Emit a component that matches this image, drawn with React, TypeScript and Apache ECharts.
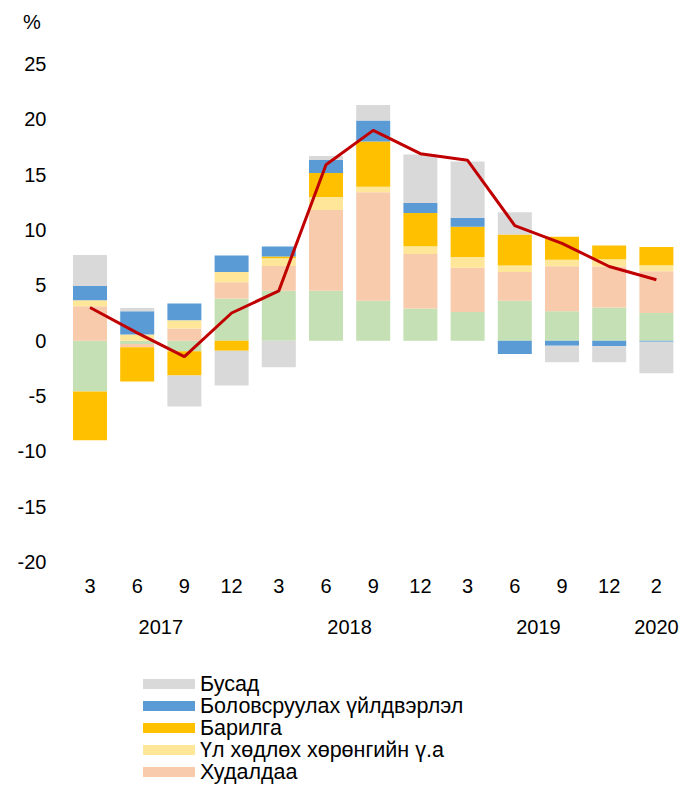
import React, { useEffect, useRef } from "react";
import * as echarts from "echarts";

const months = ["3", "6", "9", "12", "3", "6", "9", "12", "3", "6", "9", "12", "2"];
const yearSlots = ["", "", "", "", "2017", "", "", "", "", "", "", "", "2018", "", "", "", "", "", "", "", "2019", "", "", "", "", "2020", ""];

const agriculture = [-4.6, -0.3, -0.95, 3.8, 4.5, 4.5, 3.6, 2.9, 2.6, 3.6, 2.65, 3.0, 2.5];
const trade = [3.1, -0.3, 1.1, 1.47, 2.25, 7.3, 9.8, 4.93, 4.0, 2.6, 4.07, 3.7, 3.77];
const realEstate = [0.55, 0.55, 0.75, 0.93, 0.7, 1.18, 0.5, 0.7, 0.95, 0.6, 0.6, 0.66, 0.54];
const construction = [-4.4, -3.1, -2.2, -0.9, 0.15, 2.17, 4.1, 3.0, 2.75, 2.8, 2.06, 1.24, 1.66];
const manufacturing = [1.3, 2.1, 1.5, 1.5, 0.9, 1.17, 1.9, 0.9, 0.8, -1.2, -0.45, -0.5, -0.1];
const other = [2.8, 0.3, -2.8, -3.15, -2.4, 0.36, 1.4, 4.4, 5.1, 2.0, -1.5, -1.45, -2.85];
const gdp = [3.0, 0.7, -1.45, 2.5, 4.5, 15.9, 19.0, 16.9, 16.3, 10.4, 8.8, 6.7, 5.5];

const legendNames = ["Бусад", "Боловсруулах үйлдвэрлэл", "Барилга", "Үл хөдлөх хөрөнгийн ү.а", "Худалдаа"];

const FONT = "'Liberation Sans', Arial, sans-serif";

export default function App() {
  const ref = useRef<HTMLDivElement>(null);
  useEffect(() => {
    if (!ref.current) return;
    const chart = echarts.init(ref.current, null, { renderer: "svg" });
    const bar = (name: string, data: number[], color: string, border = false) => ({
      name,
      type: "bar",
      stack: "total",
      data,
      barWidth: 34,
      itemStyle: border ? { color, borderColor: color, borderWidth: 2 } : { color },
    });
    chart.setOption({
      animation: false,
      textStyle: { fontFamily: FONT },
      grid: { left: 58.4, right: 17, top: 56, height: 498 },
      graphic: [
        {
          type: "text",
          left: 15,
          top: 4,
          style: { text: "%", fontSize: 20, fontFamily: FONT, fill: "#000" },
        },
      ],
      legend: {
        orient: "vertical",
        left: 130,
        top: 660,
        itemWidth: 52,
        itemHeight: 10,
        itemGap: 0,
        icon: "rect",
        data: legendNames,
        textStyle: { fontSize: 21.5, lineHeight: 21.75, color: "#000", fontFamily: FONT },
      },
      xAxis: [
        {
          type: "category",
          data: months,
          axisLine: { show: false },
          axisTick: { show: false },
          axisLabel: { fontSize: 20, color: "#000", margin: 14, interval: 0, fontFamily: FONT },
        },
        {
          type: "category",
          data: yearSlots,
          boundaryGap: false,
          position: "bottom",
          axisLine: { show: false },
          axisTick: { show: false },
          axisLabel: { fontSize: 20, color: "#000", margin: 55, interval: 0, fontFamily: FONT },
        },
      ],
      yAxis: {
        type: "value",
        min: -20,
        max: 25,
        interval: 5,
        splitLine: { show: false },
        axisLine: { show: false },
        axisTick: { show: false },
        axisLabel: { fontSize: 20, color: "#000", margin: 20, fontFamily: FONT },
      },
      series: [
        bar("Хөдөө аж ахуй", agriculture, "#C5E0B4", true),
        bar("Худалдаа", trade, "#F8CBAD"),
        bar("Үл хөдлөх хөрөнгийн ү.а", realEstate, "#FFE699"),
        bar("Барилга", construction, "#FFC000"),
        bar("Боловсруулах үйлдвэрлэл", manufacturing, "#5B9BD5"),
        bar("Бусад", other, "#D9D9D9"),
        {
          name: "ДНБ",
          type: "line",
          data: gdp,
          symbol: "none",
          lineStyle: { color: "#C00000", width: 3 },
          itemStyle: { color: "#C00000" },
          z: 5,
        },
      ],
    });
    return () => chart.dispose();
  }, []);
  return (
    <div style={{ width: 689, height: 779, overflow: "hidden" }}>
      <div ref={ref} style={{ width: 689, height: 900 }} />
    </div>
  );
}
